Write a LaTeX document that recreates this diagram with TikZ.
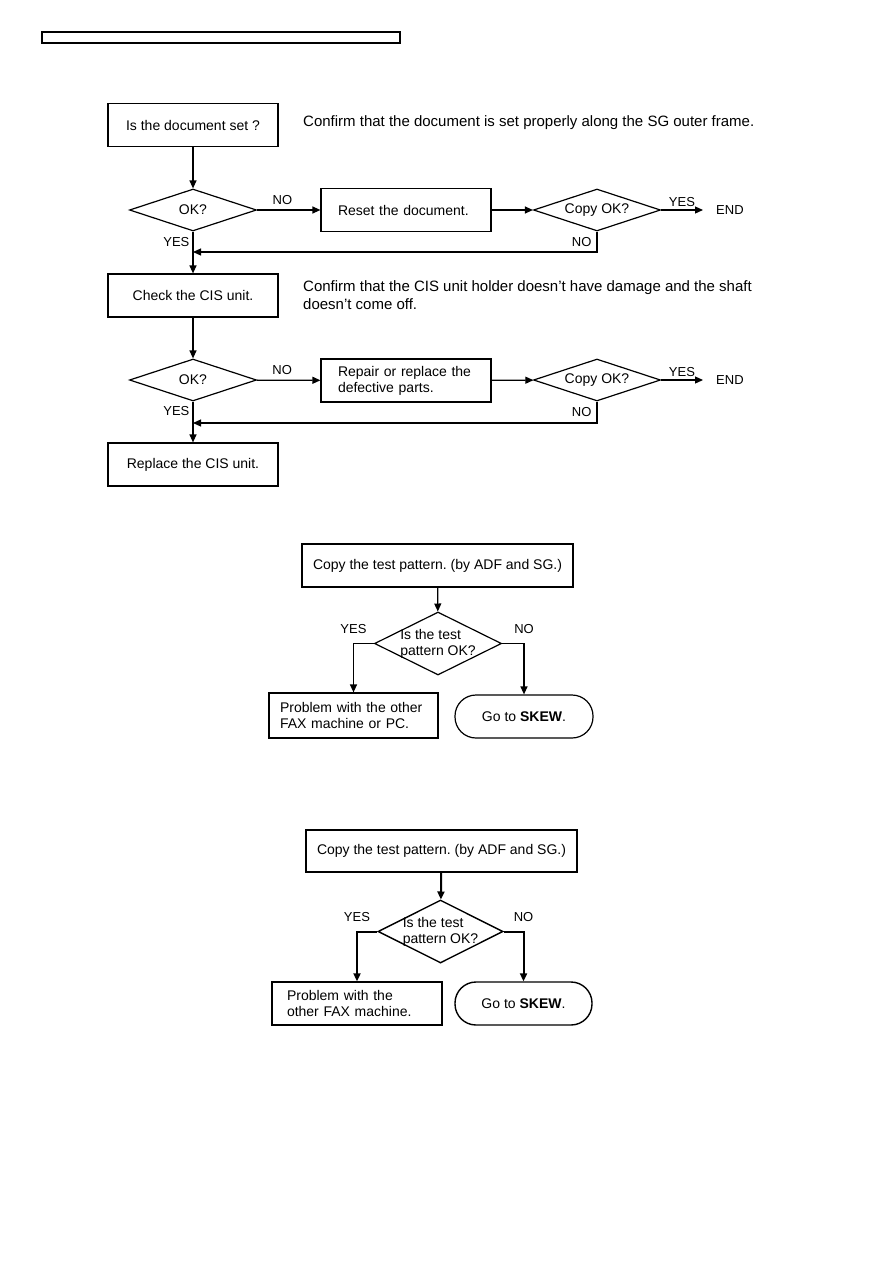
\documentclass[tikz,border=0pt]{standalone}
\usepackage{fontspec}
\setmainfont{Liberation Sans}
\usetikzlibrary{arrows.meta,shapes.geometric}
\frenchspacing

\begin{document}
\begin{tikzpicture}[
    x=1pt, y=-1pt,
    font=\fontsize{14}{16}\selectfont,
    box/.style={draw, line width=1.2pt, minimum width=170pt, minimum height=43pt, inner sep=0pt, align=center},
    leftbox/.style={box, text width=136pt, align=left, inner xsep=17pt},
    query/.style={draw, diamond, line width=1.2pt, aspect=2, inner sep=-3pt, minimum width=127pt, minimum height=42pt, align=left},
    goto/.style={draw, line width=1.2pt, rounded corners=21pt, minimum width=138pt, minimum height=43pt},
    note/.style={anchor=west, font=\fontsize{15}{18}\selectfont, align=left, inner sep=0pt},
    lbl/.style={font=\fontsize{13}{15}\selectfont, inner sep=0pt},
    arrow/.style={-{Triangle[length=8pt, width=7pt]}, line width=1.2pt},
    thickarrow/.style={arrow, line width=2pt}
]
\useasboundingbox (0,0) rectangle (893,1263);
\node[draw, line width=1.4pt, minimum width=358pt, minimum height=11pt, inner sep=0pt] (header) at (221,37.5) {};

% first chart
\node[box] (docset) at (193,125) {Is the document set ?};
\node[note] (docnote) at (303,123) {Confirm that the document is set properly along the SG outer frame.};
\node[query] (ok1) at (193,210) {OK?};
\node[leftbox] (reset) at (406,210) {Reset the document.};
\node[query] (copy1) at (597,210) {Copy OK?};
\node[lbl, anchor=west] (end1) at (716,210) {END};
\coordinate (back1) at (193,252);
\node[box] (checkcis) at (193,295.5) {Check the CIS unit.};
\node[note] (cisnote) at (303,295) {Confirm that the CIS unit holder doesn't have damage and the shaft\\doesn't come off.};
\node[query] (ok2) at (193,380) {OK?};
\node[leftbox] (repair) at (406,380.5) {Repair or replace the\\defective parts.};
\node[query] (copy2) at (597,380) {Copy OK?};
\node[lbl, anchor=west] (end2) at (716,380) {END};
\coordinate (back2) at (193,423);
\node[box] (replace) at (193,464.5) {Replace the CIS unit.};

\draw[arrow] (docset) -- (ok1);
\draw[arrow] (ok1) -- node[lbl, above=5pt, pos=0.4] {NO} (reset);
\draw[arrow] (reset) -- (copy1);
\draw[arrow, shorten >=13pt] (copy1) -- node[lbl, above=3pt, pos=0.38] {YES} (end1);
\draw[arrow] (copy1.south) |- node[lbl, pos=0.25, left=5pt] {NO} (back1);
\draw[arrow] (ok1) -- node[lbl, pos=0.24, left=3pt] {YES} (checkcis);
\draw[arrow] (checkcis) -- (ok2);
\draw[arrow] (ok2) -- node[lbl, above=5pt, pos=0.4] {NO} (repair);
\draw[arrow] (repair) -- (copy2);
\draw[arrow, shorten >=13pt] (copy2) -- node[lbl, above=3pt, pos=0.38] {YES} (end2);
\draw[arrow] (copy2.south) |- node[lbl, pos=0.25, left=5pt] {NO} (back2);
\draw[arrow] (ok2) -- node[lbl, pos=0.24, left=3pt] {YES} (replace);

% second chart
\node[box, minimum width=271pt] (test1) at (437.5,565.5) {Copy the test pattern. (by ADF and SG.)};
\node[query, minimum height=63pt] (pattern1) at (438,643.5) {Is the test\\pattern OK?};
\node[box, minimum width=169pt, minimum height=45pt, text width=147pt, align=left, inner xsep=11pt] (prob1) at (353.5,715.5) {Problem with the other\\FAX machine or PC.};
\node[goto] (skew1) at (524,716.5) {Go to \textbf{SKEW}.};

\draw[arrow] (test1) -- (pattern1);
\draw[arrow] (pattern1.west) -| node[lbl, pos=0.5, above=9pt] {YES} (prob1.north);
\draw[arrow] (pattern1.east) -| node[lbl, pos=0.5, above=9pt] {NO} (skew1.north);

% third chart
\node[box, minimum width=271pt, minimum height=42pt, line width=1.4pt] (test2) at (441.5,851) {Copy the test pattern. (by ADF and SG.)};
\node[query, minimum width=125pt, minimum height=63pt, line width=1.4pt] (pattern2) at (440.5,931.5) {Is the test\\pattern OK?};
\node[box, line width=1.4pt, text width=140pt, align=left, inner xsep=15pt] (prob2) at (357,1003.5) {Problem with the\\other FAX machine.};
\node[goto, minimum width=137pt, line width=1.4pt] (skew2) at (523.5,1003.5) {Go to \textbf{SKEW}.};

\draw[thickarrow] (test2) -- (pattern2);
\draw[thickarrow] (pattern2.west) -| node[lbl, pos=0.5, above=9pt] {YES} (prob2.north);
\draw[thickarrow] (pattern2.east) -| node[lbl, pos=0.5, above=9pt] {NO} (skew2.north);
\end{tikzpicture}
\end{document}
